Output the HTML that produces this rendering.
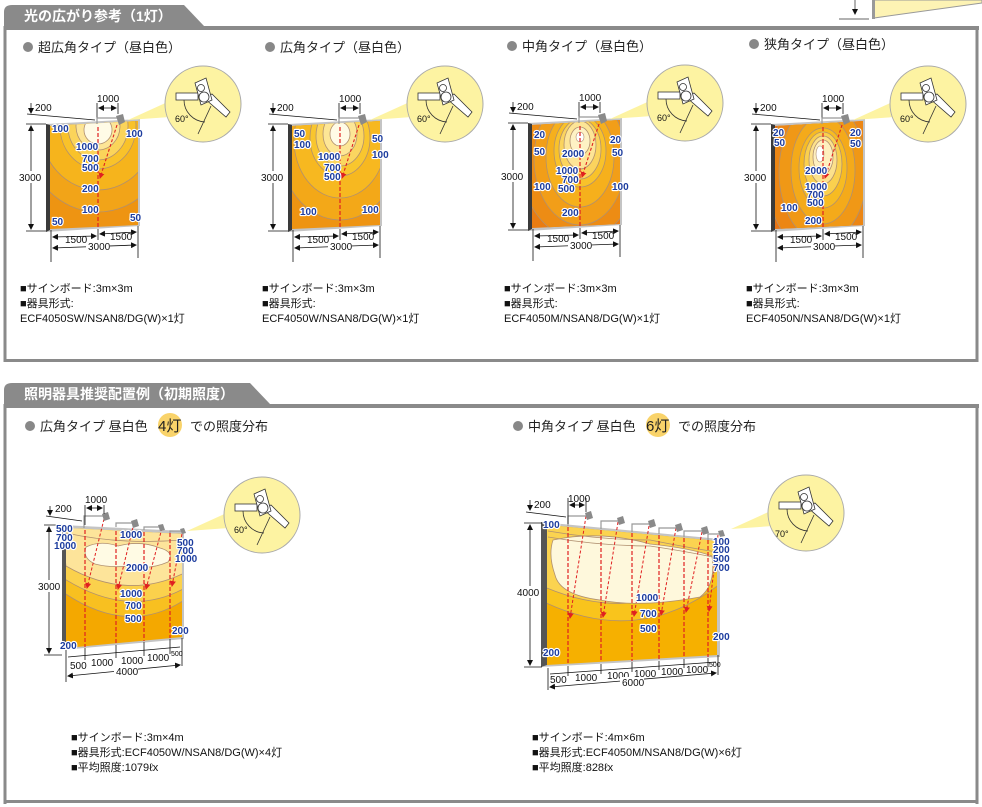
<!DOCTYPE html>
<html><head><meta charset="utf-8">
<style>
html,body{margin:0;padding:0;background:#fff;}
svg{display:block;font-family:"Liberation Sans","Noto Sans CJK JP",sans-serif;}
.lb{font-size:10px;font-weight:bold;fill:#1c3c9e;stroke:#fff;stroke-width:2.2px;paint-order:stroke;stroke-linejoin:round;}
.dm{font-size:10px;fill:#111;}
.hd{font-size:13px;fill:#222;}
.tb{font-size:14px;font-weight:bold;fill:#fff;}
.tx{font-size:11px;fill:#111;}
</style></head><body>
<svg width="982" height="807" viewBox="0 0 982 807" xmlns="http://www.w3.org/2000/svg">
<defs>
<clipPath id="cb" clipPathUnits="userSpaceOnUse"><polygon points="50,126 138,121 138,225 50,229"/></clipPath>
<clipPath id="c4" clipPathUnits="userSpaceOnUse"><polygon points="66,528 182,534 182,637 66,648"/></clipPath>
<clipPath id="c6" clipPathUnits="userSpaceOnUse"><polygon points="547,525 717,541 717,655 547,665"/></clipPath>
<marker id="ar" markerWidth="6" markerHeight="6" refX="5" refY="3" orient="auto" markerUnits="userSpaceOnUse"><path d="M0,0 L6,3 L0,6 z" fill="#e02020"/></marker>
<marker id="ak" markerWidth="6" markerHeight="6" refX="5" refY="3" orient="auto-start-reverse" markerUnits="userSpaceOnUse"><path d="M0,0 L6,3 L0,6 z" fill="#111"/></marker>
<g id="bubble">
<polygon points="128,120 172,100 170,117" fill="#fdf3a2"/>
<circle cx="203" cy="104" r="38" fill="#fdf3a2" stroke="#aaa" stroke-width="1"/>
<rect x="176" y="93" width="22" height="7" fill="#fff" stroke="#333" stroke-width="0.8"/>
<path d="M184,100 A22,22 0 0 0 205,122" fill="none" stroke="#333" stroke-width="0.8"/>
<line x1="211" y1="106" x2="198" y2="134" stroke="#333" stroke-width="0.8"/>
<polygon points="204,98 212,94 230,112 226,117" fill="#fff" stroke="#333" stroke-width="0.8"/>
<polygon points="195,83 206,78 212,100 201,105" fill="#fff" stroke="#333" stroke-width="0.8"/>
<circle cx="201" cy="88" r="3.5" fill="#fff" stroke="#333" stroke-width="0.8"/>
<circle cx="204" cy="97" r="5" fill="#fff" stroke="#333" stroke-width="0.8"/>
</g>
<g id="dims">
<line x1="31" y1="103" x2="31" y2="113" stroke="#111" stroke-width="0.8" marker-end="url(#ak)"/>
<line x1="27" y1="114" x2="95" y2="120" stroke="#111" stroke-width="0.8"/>
<text x="35" y="111" class="dm">200</text>
<line x1="97" y1="103" x2="97" y2="124" stroke="#111" stroke-width="0.8"/>
<line x1="118" y1="103" x2="118" y2="114" stroke="#111" stroke-width="0.8"/>
<line x1="99" y1="108" x2="116" y2="108" stroke="#111" stroke-width="0.8" marker-start="url(#ak)" marker-end="url(#ak)"/>
<text x="97" y="102" class="dm">1000</text>
<line x1="26" y1="124" x2="46" y2="124" stroke="#111" stroke-width="0.8"/>
<line x1="26" y1="231" x2="46" y2="231" stroke="#111" stroke-width="0.8"/>
<line x1="31" y1="126" x2="31" y2="229" stroke="#111" stroke-width="0.8" marker-start="url(#ak)" marker-end="url(#ak)"/>
<rect x="18" y="171" width="25" height="12" fill="#fff"/>
<text x="19" y="181" class="dm">3000</text>
<line x1="51" y1="230" x2="51" y2="262" stroke="#111" stroke-width="0.8"/>
<line x1="138" y1="226" x2="138" y2="258" stroke="#111" stroke-width="0.8"/>
<line x1="98" y1="229" x2="98" y2="244" stroke="#111" stroke-width="0.8"/>
<line x1="53" y1="237" x2="96" y2="236" stroke="#111" stroke-width="0.8" marker-start="url(#ak)" marker-end="url(#ak)"/>
<line x1="100" y1="234" x2="136" y2="232" stroke="#111" stroke-width="0.8" marker-start="url(#ak)" marker-end="url(#ak)"/>
<line x1="53" y1="248" x2="136" y2="245" stroke="#111" stroke-width="0.8" marker-start="url(#ak)" marker-end="url(#ak)"/>
<rect x="86" y="240" width="24" height="12" fill="#fff"/>
<text x="65" y="243" class="dm">1500</text>
<text x="110" y="240" class="dm">1500</text>
<text x="88" y="250" class="dm">3000</text>
<path d="M97,124 V118 H117" fill="none" stroke="#999" stroke-width="1.2"/>
<polygon points="116,116 123,114 125,122 119,125" fill="#8a8a8a"/>
</g>
<g id="frame">
<polygon points="46,124 140,119 140,226 46,232" fill="#c4c4c4"/>
<polygon points="46,124 50,125 50,230 46,232" fill="#3a3a3a"/>
</g>
<g id="red">
<line x1="98" y1="127" x2="98" y2="229" stroke="#e02020" stroke-width="1.2" stroke-dasharray="4,2"/>
<line x1="117" y1="125" x2="100" y2="178" stroke="#e02020" stroke-width="1.1" stroke-dasharray="3,2" marker-end="url(#ar)"/>
</g>
</defs>

<line x1="855" y1="0" x2="855" y2="14" stroke="#666" stroke-width="1" marker-end="url(#ak)"/>
<line x1="839" y1="19" x2="869" y2="19" stroke="#666" stroke-width="1"/>
<polygon points="874,0 982,0 982,3 874,18" fill="#fdf3b4" stroke="#999" stroke-width="1"/>
<rect x="872" y="0" width="3" height="19" fill="#999"/>

<path d="M4,26 V12 Q4,5 12,5 H184 L204,26 Z" fill="#8a8a8a"/>
<text x="24" y="21" class="tb">光の広がり参考（1灯）</text>
<rect x="4" y="26" width="975" height="4" fill="#8a8a8a"/>
<rect x="3.5" y="26" width="3" height="336" fill="#8a8a8a"/>
<rect x="975.5" y="26" width="3" height="336" fill="#8a8a8a"/>
<rect x="3.5" y="359" width="975" height="3" fill="#8a8a8a"/>

<path d="M4,404 V390 Q4,383 12,383 H250 L270,404 Z" fill="#8a8a8a"/>
<text x="24" y="399" class="tb">照明器具推奨配置例（初期照度）</text>
<rect x="4" y="404" width="975" height="4" fill="#8a8a8a"/>
<rect x="3.5" y="404" width="3" height="400" fill="#8a8a8a"/>
<rect x="975.5" y="404" width="3" height="400" fill="#8a8a8a"/>
<rect x="3.5" y="800" width="975" height="3" fill="#8a8a8a"/>

<circle cx="28" cy="47" r="5" fill="#888"/><text x="38" y="52" class="hd">超広角タイプ（昼白色）</text>
<circle cx="270" cy="47" r="5" fill="#888"/><text x="280" y="52" class="hd">広角タイプ（昼白色）</text>
<circle cx="512" cy="46" r="5" fill="#888"/><text x="522" y="51" class="hd">中角タイプ（昼白色）</text>
<circle cx="754" cy="44" r="5" fill="#888"/><text x="764" y="49" class="hd">狭角タイプ（昼白色）</text>

<g>
<use href="#frame"/>
<g clip-path="url(#cb)">
<rect x="40" y="110" width="110" height="130" fill="#ee9412"/>
<ellipse cx="98" cy="126" rx="75" ry="86" fill="#f2a418" stroke="#b09070" stroke-width="0.8"/>
<ellipse cx="98" cy="126" rx="58" ry="64" fill="#f6b41c" stroke="#b09070" stroke-width="0.8"/>
<ellipse cx="98" cy="126" rx="38" ry="43" fill="#f9c22a" stroke="#b09070" stroke-width="0.8"/>
<ellipse cx="98" cy="126" rx="30" ry="34" fill="#fbd45a" stroke="#b09070" stroke-width="0.8"/>
<ellipse cx="98" cy="126" rx="22" ry="24" fill="#fde596" stroke="#b09070" stroke-width="0.8"/>
<ellipse cx="98" cy="130" rx="14" ry="14" fill="#fffbe6" stroke="#b09070" stroke-width="0.8"/>
</g>
<use href="#dims"/><use href="#red"/><use href="#bubble"/>
<text x="52" y="132" class="lb">100</text><text x="126" y="137" class="lb">100</text>
<text x="76" y="150" class="lb">1000</text><text x="82" y="162" class="lb">700</text><text x="82" y="171" class="lb">500</text>
<text x="82" y="192" class="lb">200</text><text x="82" y="213" class="lb">100</text>
<text x="52" y="225" class="lb">50</text><text x="130" y="221" class="lb">50</text>
<text x="20" y="292" class="tx">■サインボード:3m×3m</text>
<text x="20" y="307" class="tx">■器具形式:</text>
<text x="20" y="322" class="tx">ECF4050SW/NSAN8/DG(W)×1灯</text>
</g>

<g transform="translate(242,0)">
<use href="#frame"/>
<g clip-path="url(#cb)">
<rect x="40" y="110" width="110" height="130" fill="#ee9412"/>
<ellipse cx="98" cy="140" rx="62" ry="80" fill="#f3a818" stroke="#b09070" stroke-width="0.8"/>
<ellipse cx="98" cy="140" rx="46" ry="58" fill="#f7b820" stroke="#b09070" stroke-width="0.8"/>
<ellipse cx="98" cy="138" rx="30" ry="38" fill="#f9c62e" stroke="#b09070" stroke-width="0.8"/>
<ellipse cx="98" cy="136" rx="24" ry="30" fill="#fbd660" stroke="#b09070" stroke-width="0.8"/>
<ellipse cx="98" cy="134" rx="17" ry="22" fill="#fde696" stroke="#b09070" stroke-width="0.8"/>
<ellipse cx="98" cy="134" rx="10" ry="12" fill="#fffbe6" stroke="#b09070" stroke-width="0.8"/>
</g>
<use href="#dims"/><use href="#red"/><use href="#bubble"/>
<text x="52" y="137" class="lb">50</text><text x="130" y="142" class="lb">50</text>
<text x="52" y="148" class="lb">100</text><text x="130" y="158" class="lb">100</text>
<text x="76" y="160" class="lb">1000</text><text x="82" y="171" class="lb">700</text><text x="82" y="180" class="lb">500</text>
<text x="58" y="215" class="lb">100</text><text x="120" y="213" class="lb">100</text>
<text x="20" y="292" class="tx">■サインボード:3m×3m</text>
<text x="20" y="307" class="tx">■器具形式:</text>
<text x="20" y="322" class="tx">ECF4050W/NSAN8/DG(W)×1灯</text>
</g>

<g transform="translate(482,-1)">
<use href="#frame"/>
<g clip-path="url(#cb)">
<rect x="40" y="110" width="110" height="130" fill="#e97c12"/>
<ellipse cx="98" cy="160" rx="60" ry="80" fill="#ed8c14" stroke="#b09070" stroke-width="0.8"/>
<ellipse cx="98" cy="160" rx="46" ry="66" fill="#f29e18" stroke="#b09070" stroke-width="0.8"/>
<ellipse cx="98" cy="158" rx="34" ry="50" fill="#f6b01c" stroke="#b09070" stroke-width="0.8"/>
<ellipse cx="98" cy="152" rx="26" ry="36" fill="#f9c22a" stroke="#b09070" stroke-width="0.8"/>
<ellipse cx="98" cy="150" rx="21" ry="30" fill="#fbd45e" stroke="#b09070" stroke-width="0.8"/>
<ellipse cx="98" cy="146" rx="16" ry="24" fill="#fde596" stroke="#b09070" stroke-width="0.8"/>
<ellipse cx="98" cy="142" rx="10" ry="14" fill="#fef2c4" stroke="#b09070" stroke-width="0.8"/>
<ellipse cx="98" cy="138" rx="4" ry="5" fill="#fff" stroke="#b09070" stroke-width="0.6"/>
</g>
<use href="#dims"/><use href="#red"/><use href="#bubble"/>
<text x="52" y="139" class="lb">20</text><text x="128" y="144" class="lb">20</text>
<text x="52" y="156" class="lb">50</text><text x="130" y="157" class="lb">50</text>
<text x="80" y="158" class="lb">2000</text>
<text x="74" y="175" class="lb">1000</text><text x="80" y="184" class="lb">700</text><text x="76" y="193" class="lb">500</text>
<text x="52" y="191" class="lb">100</text><text x="130" y="191" class="lb">100</text>
<text x="80" y="217" class="lb">200</text>
<text x="22" y="293" class="tx">■サインボード:3m×3m</text>
<text x="22" y="308" class="tx">■器具形式:</text>
<text x="22" y="323" class="tx">ECF4050M/NSAN8/DG(W)×1灯</text>
</g>

<g transform="translate(725,0)">
<use href="#frame"/>
<g clip-path="url(#cb)">
<rect x="40" y="110" width="110" height="130" fill="#e87414"/>
<ellipse cx="98" cy="175" rx="56" ry="82" fill="#ec8614" stroke="#b09070" stroke-width="0.8"/>
<ellipse cx="98" cy="172" rx="44" ry="70" fill="#f09816" stroke="#b09070" stroke-width="0.8"/>
<ellipse cx="98" cy="170" rx="32" ry="54" fill="#f4aa1a" stroke="#b09070" stroke-width="0.8"/>
<ellipse cx="98" cy="168" rx="24" ry="40" fill="#f7bb22" stroke="#b09070" stroke-width="0.8"/>
<ellipse cx="98" cy="164" rx="19" ry="32" fill="#fad04e" stroke="#b09070" stroke-width="0.8"/>
<ellipse cx="98" cy="160" rx="14" ry="24" fill="#fce18c" stroke="#b09070" stroke-width="0.8"/>
<ellipse cx="98" cy="157" rx="10" ry="17" fill="#feefbe" stroke="#b09070" stroke-width="0.8"/>
<ellipse cx="95" cy="154" rx="4" ry="8" fill="#fff" stroke="#b09070" stroke-width="0.6"/>
</g>
<use href="#dims"/><use href="#red"/><use href="#bubble"/>
<text x="48" y="136" class="lb">20</text><text x="125" y="136" class="lb">20</text>
<text x="49" y="146" class="lb">50</text><text x="125" y="147" class="lb">50</text>
<text x="80" y="174" class="lb">2000</text>
<text x="80" y="190" class="lb">1000</text><text x="82" y="198" class="lb">700</text><text x="82" y="206" class="lb">500</text>
<text x="56" y="211" class="lb">100</text>
<text x="80" y="224" class="lb">200</text>
<text x="21" y="292" class="tx">■サインボード:3m×3m</text>
<text x="21" y="307" class="tx">■器具形式:</text>
<text x="21" y="322" class="tx">ECF4050N/NSAN8/DG(W)×1灯</text>
</g>

<circle cx="30" cy="426" r="5" fill="#888"/>
<text x="40" y="431" class="hd">広角タイプ 昼白色</text>
<circle cx="170" cy="425" r="12" fill="#f9d36a"/>
<text x="158" y="431" class="hd" style="font-size:15px">4灯</text>
<text x="190" y="431" class="hd">での照度分布</text>
<circle cx="518" cy="426" r="5" fill="#888"/>
<text x="528" y="431" class="hd">中角タイプ 昼白色</text>
<circle cx="658" cy="425" r="12" fill="#f9d36a"/>
<text x="646" y="431" class="hd" style="font-size:15px">6灯</text>
<text x="678" y="431" class="hd">での照度分布</text>

<g>
<polygon points="62,525 184,531 184,639 62,650" fill="#c4c4c4"/>
<polygon points="62,525 66,527 66,648 62,650" fill="#555"/>
<g clip-path="url(#c4)">
<rect x="60" y="520" width="130" height="135" fill="#f4a800"/>
<path d="M60,520 H190 V596 Q130,640 60,590 Z" fill="#f8c020" stroke="#b09070" stroke-width="0.8"/>
<path d="M60,520 H190 V585 Q130,622 60,576 Z" fill="#fbd14c" stroke="#b09070" stroke-width="0.8"/>
<path d="M60,520 H190 V570 Q130,603 66,566 Z" fill="#fde49a" stroke="#b09070" stroke-width="0.8"/>
<path d="M86,547 Q100,540 118,546 Q140,540 160,548 Q175,552 168,562 Q150,570 130,566 Q110,568 95,564 Q82,558 86,547 Z" fill="#fffbe4" stroke="#b09070" stroke-width="0.8"/>
<path d="M66,533 Q120,545 182,540" fill="none" stroke="#b09070" stroke-width="0.8"/>
</g>
<g stroke="#e02020" stroke-width="1.2" stroke-dasharray="4,2">
<line x1="85" y1="530" x2="85" y2="647"/><line x1="116" y1="531" x2="116" y2="644"/>
<line x1="144" y1="532" x2="144" y2="641"/><line x1="170" y1="533" x2="170" y2="638"/>
</g>
<g stroke="#e02020" stroke-width="1" stroke-dasharray="3,2" marker-end="url(#ar)">
<line x1="104" y1="519" x2="87" y2="588"/><line x1="134" y1="523" x2="118" y2="589"/>
<line x1="162" y1="528" x2="146" y2="589"/><line x1="182" y1="534" x2="172" y2="586"/>
</g>
<g fill="none" stroke="#999" stroke-width="1.2">
<path d="M84,528 V516 H104"/><path d="M116,527 V523 H133"/><path d="M144,530 V527 H160"/><path d="M170,533 V531 H182"/>
</g>
<g fill="#8a8a8a"><polygon points="102,514 108,512 110,519 104,521"/><polygon points="131,521 137,519 139,526 133,528"/><polygon points="158,525 163,524 165,530 160,531"/><polygon points="180,529 184,528 186,533 182,534"/></g>
<g stroke="#111" stroke-width="0.8">
<line x1="50" y1="506" x2="50" y2="515" marker-end="url(#ak)"/>
<line x1="46" y1="516" x2="82" y2="521"/>
<line x1="85" y1="505" x2="85" y2="525"/><line x1="104" y1="505" x2="104" y2="514"/>
<line x1="87" y1="508" x2="102" y2="508" marker-start="url(#ak)" marker-end="url(#ak)"/>
<line x1="44" y1="525" x2="62" y2="525"/><line x1="44" y1="655" x2="62" y2="655"/>
<line x1="49" y1="527" x2="49" y2="653" marker-start="url(#ak)" marker-end="url(#ak)"/>
<line x1="66" y1="650" x2="66" y2="682"/><line x1="182" y1="638" x2="182" y2="666"/>
<line x1="85" y1="648" x2="85" y2="660"/><line x1="116" y1="645" x2="116" y2="658"/><line x1="144" y1="642" x2="144" y2="656"/><line x1="170" y1="639" x2="170" y2="654"/>
<line x1="68" y1="657" x2="180" y2="647"/>
<line x1="68" y1="676" x2="180" y2="665" marker-start="url(#ak)" marker-end="url(#ak)"/>
</g>
<text x="55" y="512" class="dm">200</text>
<text x="85" y="503" class="dm">1000</text>
<rect x="37" y="580" width="24" height="12" fill="#fff"/>
<text x="38" y="590" class="dm">3000</text>
<text x="70" y="669" class="dm">500</text><text x="91" y="666" class="dm">1000</text>
<text x="121" y="664" class="dm">1000</text><text x="147" y="661" class="dm">1000</text><text x="171" y="656" style="font-size:7px">500</text>
<rect x="114" y="666" width="24" height="11" fill="#fff"/>
<text x="116" y="675" class="dm">4000</text>
<text x="56" y="532" class="lb">500</text><text x="56" y="541" class="lb">700</text><text x="54" y="549" class="lb">1000</text>
<text x="120" y="538" class="lb">1000</text>
<text x="177" y="546" class="lb">500</text><text x="177" y="554" class="lb">700</text><text x="175" y="562" class="lb">1000</text>
<text x="126" y="571" class="lb">2000</text>
<text x="120" y="597" class="lb">1000</text><text x="125" y="609" class="lb">700</text><text x="125" y="622" class="lb">500</text>
<text x="172" y="634" class="lb">200</text><text x="60" y="649" class="lb">200</text>
<g transform="translate(59,411)"><use href="#bubble"/></g>
<text x="71" y="741" class="tx">■サインボード:3m×4m</text>
<text x="71" y="756" class="tx">■器具形式:ECF4050W/NSAN8/DG(W)×4灯</text>
<text x="71" y="771" class="tx">■平均照度:1079ℓx</text>
</g>

<g>
<polygon points="541,522 720,539 720,657 541,667" fill="#c4c4c4"/>
<polygon points="541,522 547,524 547,665 541,667" fill="#555"/>
<g clip-path="url(#c6)">
<rect x="540" y="520" width="185" height="150" fill="#f6b000"/>
<path d="M540,520 H725 V580 Q640,650 540,600 Z" fill="#f9c41c" stroke="#b09070" stroke-width="0.8"/>
<path d="M540,520 H725 V565 Q640,630 540,585 Z" fill="#fbd350" stroke="#b09070" stroke-width="0.8"/>
<path d="M553,540 Q600,530 650,544 Q690,548 712,556 Q716,585 700,597 Q640,608 600,600 Q560,595 555,575 Q548,555 553,540 Z" fill="#fef8dc" stroke="#b09070" stroke-width="0.8"/>
<path d="M548,531 Q600,540 650,540 Q690,548 717,552" fill="none" stroke="#b09070" stroke-width="0.8"/>
<path d="M548,537 Q600,546 650,546 Q690,552 717,558" fill="none" stroke="#b09070" stroke-width="0.8"/>
</g>
<g stroke="#e02020" stroke-width="1.2" stroke-dasharray="4,2">
<line x1="568" y1="527" x2="568" y2="664"/><line x1="601" y1="530" x2="601" y2="662"/><line x1="632" y1="533" x2="632" y2="661"/>
<line x1="659" y1="535" x2="659" y2="659"/><line x1="684" y1="538" x2="684" y2="658"/><line x1="708" y1="540" x2="708" y2="657"/>
</g>
<g stroke="#e02020" stroke-width="1" stroke-dasharray="3,2" marker-end="url(#ar)">
<line x1="586" y1="516" x2="570" y2="618"/><line x1="618" y1="522" x2="603" y2="617"/><line x1="649" y1="526" x2="634" y2="616"/>
<line x1="676" y1="528" x2="661" y2="615"/><line x1="702" y1="532" x2="686" y2="612"/><line x1="718" y1="535" x2="709" y2="611"/>
</g>
<g fill="none" stroke="#999" stroke-width="1.2">
<path d="M568,526 V516 H586"/><path d="M601,529 V521 H618"/><path d="M632,532 V524 H649"/><path d="M659,534 V528 H676"/><path d="M684,537 V531 H702"/><path d="M708,540 V534 H720"/>
</g>
<g fill="#8a8a8a"><polygon points="585,513 591,511 593,518 587,520"/><polygon points="617,518 623,516 625,523 619,525"/><polygon points="648,521 654,519 656,526 650,528"/><polygon points="675,525 681,523 683,530 677,532"/><polygon points="701,528 707,526 709,533 703,535"/><polygon points="718,531 723,530 725,536 720,537"/></g>
<g stroke="#111" stroke-width="0.8">
<line x1="530" y1="500" x2="530" y2="510" marker-end="url(#ak)"/>
<line x1="526" y1="512" x2="566" y2="517"/>
<line x1="568" y1="498" x2="568" y2="524"/><line x1="586" y1="498" x2="586" y2="512"/>
<line x1="570" y1="505" x2="584" y2="505" marker-start="url(#ak)" marker-end="url(#ak)"/>
<line x1="524" y1="523" x2="542" y2="523"/><line x1="524" y1="667" x2="542" y2="667"/>
<line x1="530" y1="525" x2="530" y2="665" marker-start="url(#ak)" marker-end="url(#ak)"/>
<line x1="548" y1="668" x2="548" y2="690"/><line x1="718" y1="655" x2="718" y2="675"/>
<line x1="568" y1="666" x2="568" y2="676"/><line x1="601" y1="664" x2="601" y2="674"/><line x1="632" y1="662" x2="632" y2="672"/><line x1="659" y1="661" x2="659" y2="670"/><line x1="684" y1="659" x2="684" y2="668"/><line x1="708" y1="658" x2="708" y2="667"/>
<line x1="550" y1="674" x2="716" y2="662"/>
<line x1="550" y1="687" x2="716" y2="673" marker-start="url(#ak)" marker-end="url(#ak)"/>
</g>
<text x="534" y="508" class="dm">200</text>
<text x="568" y="502" class="dm">1000</text>
<rect x="516" y="586" width="25" height="12" fill="#fff"/>
<text x="517" y="596" class="dm">4000</text>
<text x="550" y="683" class="dm">500</text><text x="575" y="681" class="dm">1000</text><text x="607" y="679" class="dm">1000</text>
<text x="634" y="677" class="dm">1000</text><text x="661" y="675" class="dm">1000</text><text x="686" y="673" class="dm">1000</text><text x="709" y="667" style="font-size:7px">500</text>
<rect x="620" y="677" width="24" height="11" fill="#fff"/>
<text x="622" y="686" class="dm">6000</text>
<text x="543" y="528" class="lb">100</text>
<text x="713" y="545" class="lb">100</text><text x="713" y="553" class="lb">200</text><text x="713" y="562" class="lb">500</text><text x="713" y="571" class="lb">700</text>
<text x="636" y="601" class="lb">1000</text><text x="640" y="617" class="lb">700</text><text x="640" y="632" class="lb">500</text>
<text x="713" y="640" class="lb">200</text><text x="543" y="656" class="lb">200</text>
<g transform="translate(603,409)"><use href="#bubble"/></g>
<text x="775" y="537" class="dm" style="font-size:9px">70°</text>
<text x="532" y="741" class="tx">■サインボード:4m×6m</text>
<text x="532" y="756" class="tx">■器具形式:ECF4050M/NSAN8/DG(W)×6灯</text>
<text x="532" y="771" class="tx">■平均照度:828ℓx</text>
</g>

<text x="175" y="122" class="dm" style="font-size:9px">60°</text>
<text x="417" y="122" class="dm" style="font-size:9px">60°</text>
<text x="657" y="121" class="dm" style="font-size:9px">60°</text>
<text x="900" y="122" class="dm" style="font-size:9px">60°</text>
<text x="234" y="533" class="dm" style="font-size:9px">60°</text>
</svg>
</body></html>
